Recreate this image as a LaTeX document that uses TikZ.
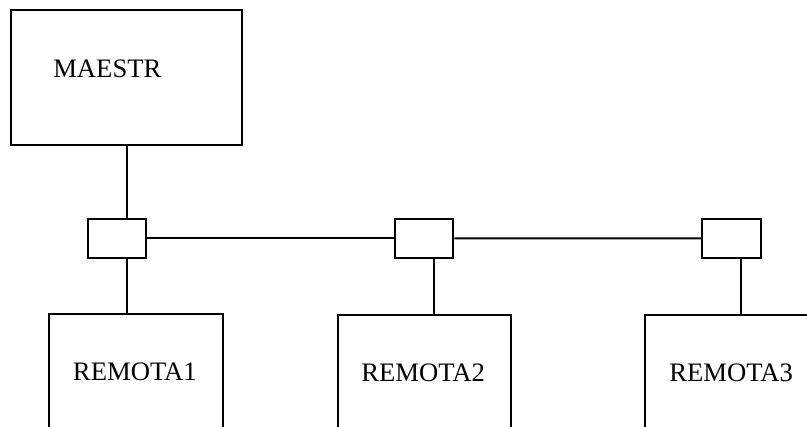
\documentclass[tikz,border=0pt]{standalone}
\usepackage{fontspec}
\setmainfont{Liberation Serif}
\begin{document}
\begin{tikzpicture}[x=0.75pt,y=-0.75pt,
  box/.style={draw=black,line width=1.5pt,rectangle,inner sep=0pt,fill=white},
  hubbox/.style={box,minimum width=43.9pt,minimum height=29pt},
  bigbox/.style={box,minimum width=130pt,minimum height=116.8pt},
  wire/.style={draw=black,line width=1.5pt},
  lbl/.style={anchor=base west,inner sep=0pt,font=\fontsize{20pt}{22pt}\selectfont}]
\useasboundingbox (0,0) rectangle (807,426);
\clip (0,0) rectangle (807,426);
\fill[white] (0,0) rectangle (807,426);
% master
\node[box,minimum width=173.25pt,minimum height=100.9pt] (maestro) at (126.5,77.75) {};
\node[lbl] (tmaestro) at (53,77.5) {MAESTR};
% hubs
\node[hubbox] (hub1) at (117,238.3) {};
\node[hubbox] (hub2) at (424.2,238.3) {};
\node[hubbox] (hub3) at (731.5,238.4) {};
% remotes (cut off at the bottom)
\node[bigbox] (r1) at (136,392.2) {};
\node[bigbox] (r2) at (424.2,392.6) {};
\node[bigbox] (r3) at (731.5,392.6) {};
\node[lbl] (t1) at (72.7,380.7) {REMOTA1};
\node[lbl] (t2) at (361,381.3) {REMOTA2};
\node[lbl] (t3) at (669,381) {REMOTA3};
% vertical wire positions
\coordinate (v1) at (126.7,0);
\coordinate (v2) at (433.7,0);
\coordinate (v3) at (741,0);
% connectors
\draw[wire] (maestro.south) -- (maestro.south |- hub1.north);
\draw[wire] (hub1.east) -- (hub2.west);
\draw[wire] (hub2.east) -- (hub3.west);
\draw[wire] (v1 |- hub1.south) -- (v1 |- r1.north);
\draw[wire] (v2 |- hub2.south) -- (v2 |- r2.north);
\draw[wire] (v3 |- hub3.south) -- (v3 |- r3.north);
\end{tikzpicture}
\end{document}
